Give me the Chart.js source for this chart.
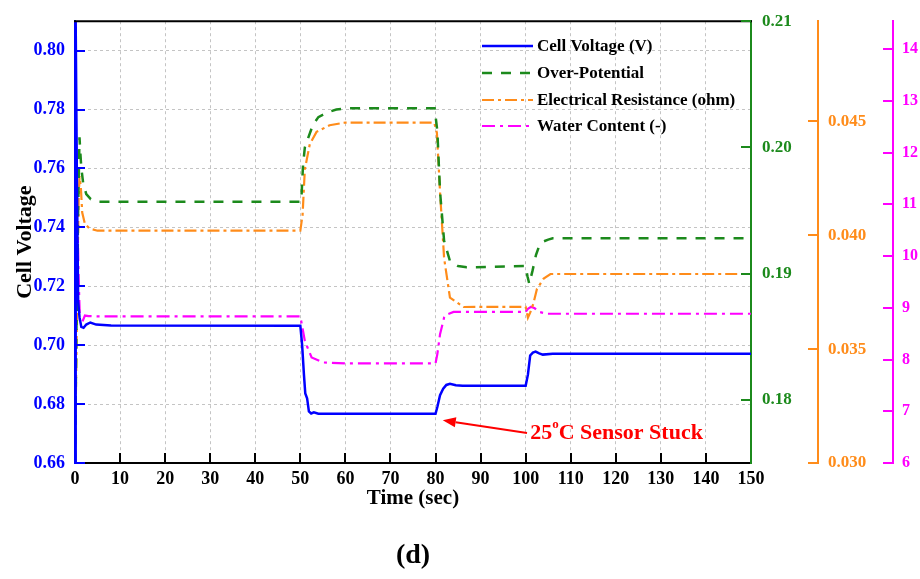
<!DOCTYPE html>
<html>
<head>
<meta charset="utf-8">
<script src="https://cdn.jsdelivr.net/npm/chart.js@4.4.1/dist/chart.umd.min.js"></script>
<style>
  html, body { margin: 0; padding: 0; background: #ffffff; }
  canvas { display: block; }
</style>
</head>
<body>
<canvas id="chart" width="920" height="579"></canvas>
<script>
const SERIF = "'Liberation Serif', 'Times New Roman', serif";

// ---- series: time (sec) and values ----
const voltageTime   = [0, 0.15, 0.4, 0.7, 1.0, 1.4, 1.9, 2.5, 3.4, 4.7, 8, 50, 50.4, 50.8, 51.1, 51.5, 51.9, 52.4, 53, 54, 80, 80.4, 81, 81.7, 82.4, 83.2, 84.5, 86, 100, 100.5, 101, 101.6, 102.2, 103, 103.8, 106, 150];
const voltageValues = [0.66, 0.81, 0.76, 0.715, 0.7095, 0.7062, 0.7059, 0.707, 0.7077, 0.707, 0.7067, 0.7066, 0.700, 0.690, 0.6836, 0.682, 0.6775, 0.6768, 0.6772, 0.6767, 0.6767, 0.679, 0.683, 0.6852, 0.6865, 0.6869, 0.6864, 0.6862, 0.6862, 0.690, 0.6965, 0.6975, 0.6978, 0.6972, 0.6968, 0.6971, 0.6971];

const potentialTime   = [0, 0.3, 0.7, 1.0, 1.2, 1.4, 1.8, 2.5, 3.5, 5, 50.2, 50.6, 51.0, 52.8, 54, 56.2, 58, 60, 79.8, 80.4, 81, 81.9, 83.2, 85, 86.9, 100, 100.4, 100.8, 101.5, 102.3, 103, 103.6, 105, 106, 150];
const potentialValues = [0.175, 0.185, 0.195, 0.2008, 0.1995, 0.1984, 0.1972, 0.1963, 0.1959, 0.1957, 0.1957, 0.1986, 0.2000, 0.2018, 0.2024, 0.2028, 0.2030, 0.2031, 0.2031, 0.2013, 0.1965, 0.1926, 0.1910, 0.1906, 0.1905, 0.1906, 0.1898, 0.1892, 0.1902, 0.1915, 0.1922, 0.1925, 0.1927, 0.1928, 0.1928];

const resistanceTime   = [0, 0.4, 0.8, 1.0, 1.3, 1.6, 2.2, 3.2, 5, 50, 50.5, 51, 52.1, 53.6, 56.5, 60, 79.7, 80.3, 81, 81.9, 83.2, 86.2, 100, 100.5, 101, 101.7, 102.5, 104, 105.5, 150];
const resistanceValues = [0.030, 0.036, 0.0415, 0.0426, 0.0421, 0.0410, 0.0405, 0.0403, 0.0402, 0.0402, 0.0409, 0.0429, 0.0440, 0.04454, 0.04483, 0.04495, 0.04495, 0.0445, 0.0419, 0.0390, 0.03726, 0.03685, 0.03686, 0.03638, 0.0366, 0.03699, 0.03764, 0.0381, 0.0383, 0.0383];

const waterTime   = [0, 0.2, 0.5, 0.8, 1.1, 1.5, 2.2, 3, 5, 50, 50.5, 51, 52.5, 55, 60, 80, 80.4, 81, 81.9, 82.5, 84, 100, 100.5, 101.2, 102, 103, 104.7, 150];
const waterValues = [6, 12.6, 11.0, 9.6, 8.74, 8.70, 8.85, 8.84, 8.835, 8.835, 8.60, 8.36, 8.04, 7.944, 7.925, 7.925, 8.105, 8.49, 8.81, 8.87, 8.92, 8.92, 8.98, 9.02, 8.99, 8.92, 8.885, 8.885];

// ---- axis ticks ----
const timeTicks       = [0, 10, 20, 30, 40, 50, 60, 70, 80, 90, 100, 110, 120, 130, 140, 150];
const voltageTicks    = [0.66, 0.68, 0.70, 0.72, 0.74, 0.76, 0.78, 0.80];
const potentialTicks  = [0.18, 0.19, 0.20, 0.21];
const resistanceTicks = [0.030, 0.035, 0.040, 0.045];
const waterTicks      = [6, 7, 8, 9, 10, 11, 12, 13, 14];

const seriesLabels = ['Cell Voltage (V)', 'Over-Potential', 'Electrical Resistance (ohm)', 'Water Content (-)'];

const BLUE = '#0000ff', GREEN = '#1c8a1c', ORANGE = '#ff8c1a', MAGENTA = '#ff00ff', RED = '#ff0000';

const pts = (ts, vs) => ts.map((t, i) => ({ x: t, y: vs[i] }));

const boldSerif = size => ({ family: SERIF, size, weight: 'bold' });
const setTicks = list => scale => { scale.ticks = list.map(v => ({ value: v })); };

// inward tick marks on every axis plus the top frame line
const frameMarks = {
  id: 'frameMarks',
  afterDatasetsDraw(chart) {
    const { ctx, chartArea: a, scales } = chart;
    ctx.save();
    ctx.lineWidth = 2;
    ctx.setLineDash([]);
    ctx.strokeStyle = '#000';
    ctx.beginPath();
    ctx.moveTo(a.left - 1, a.top);
    ctx.lineTo(a.right + 1, a.top);
    ctx.stroke();

    const vertTicks = (scale, x0, dir, list, color) => {
      ctx.strokeStyle = color;
      ctx.beginPath();
      list.forEach(v => {
        const y = Math.round(scale.getPixelForValue(v));
        ctx.moveTo(x0, y);
        ctx.lineTo(x0 + dir * 10, y);
      });
      ctx.stroke();
    };
    vertTicks(scales.y, scales.y.right, 1, voltageTicks, BLUE);
    vertTicks(scales.y1, scales.y1.left, -1, potentialTicks, GREEN);
    vertTicks(scales.y2, scales.y2.left, -1, resistanceTicks, ORANGE);
    vertTicks(scales.y3, scales.y3.left, -1, waterTicks, MAGENTA);

    ctx.strokeStyle = '#000';
    ctx.beginPath();
    timeTicks.slice(1, -1).forEach(t => {
      const x = Math.round(scales.x.getPixelForValue(t));
      ctx.moveTo(x, a.bottom);
      ctx.lineTo(x, a.bottom - 10);
    });
    ctx.stroke();
    ctx.restore();
  }
};

// legend inside the plot, upper right
const insideLegend = {
  id: 'insideLegend',
  afterDatasetsDraw(chart) {
    const { ctx } = chart;
    ctx.save();
    ctx.font = `bold 17px ${SERIF}`;
    ctx.textBaseline = 'middle';
    ctx.fillStyle = '#000';
    const rows = [46, 73, 100, 126];
    chart.data.datasets.forEach((ds, i) => {
      const y = rows[i];
      ctx.strokeStyle = ds.borderColor;
      ctx.lineWidth = ds.borderWidth;
      ctx.setLineDash(ds.borderDash || []);
      ctx.beginPath();
      ctx.moveTo(482, y);
      ctx.lineTo(533, y);
      ctx.stroke();
      ctx.setLineDash([]);
      ctx.fillText(ds.label, 537, y + 1);
    });
    ctx.restore();
  }
};

// red arrow and note for the stuck sensor, plus the panel tag
const sensorNote = {
  id: 'sensorNote',
  afterDatasetsDraw(chart) {
    const { ctx, scales: { x, y } } = chart;
    const tipX = x.getPixelForValue(81.6), tipY = y.getPixelForValue(0.6745);
    const tailX = x.getPixelForValue(100.3), tailY = y.getPixelForValue(0.6702);
    ctx.save();
    ctx.strokeStyle = RED;
    ctx.fillStyle = RED;
    ctx.lineWidth = 2;
    const ang = Math.atan2(tipY - tailY, tipX - tailX);
    const headLen = 13, headW = 5;
    const bx = tipX - headLen * Math.cos(ang), by = tipY - headLen * Math.sin(ang);
    ctx.beginPath();
    ctx.moveTo(tailX, tailY);
    ctx.lineTo(bx, by);
    ctx.stroke();
    ctx.beginPath();
    ctx.moveTo(tipX, tipY);
    ctx.lineTo(bx + headW * Math.sin(ang), by - headW * Math.cos(ang));
    ctx.lineTo(bx - headW * Math.sin(ang), by + headW * Math.cos(ang));
    ctx.closePath();
    ctx.fill();

    let tx = x.getPixelForValue(101);
    const ty = y.getPixelForValue(0.6702);
    ctx.textBaseline = 'middle';
    ctx.font = `bold 22px ${SERIF}`;
    ctx.fillText('25', tx, ty);
    tx += ctx.measureText('25').width;
    ctx.font = `bold 13px ${SERIF}`;
    ctx.fillText('o', tx, ty - 8);
    tx += ctx.measureText('o').width;
    ctx.font = `bold 22px ${SERIF}`;
    ctx.fillText('C Sensor Stuck', tx, ty);

    ctx.fillStyle = '#000';
    ctx.textAlign = 'center';
    ctx.font = `bold 28px ${SERIF}`;
    ctx.fillText('(d)', x.getPixelForValue(75), 556);
    ctx.restore();
  }
};

new Chart(document.getElementById('chart'), {
  type: 'scatter',
  data: {
    datasets: [
      { label: seriesLabels[0], data: pts(voltageTime, voltageValues), yAxisID: 'y',
        borderColor: BLUE, borderWidth: 2.5, showLine: true, pointRadius: 0, tension: 0, order: 0 },
      { label: seriesLabels[1], data: pts(potentialTime, potentialValues), yAxisID: 'y1',
        borderColor: GREEN, borderWidth: 2.5, borderDash: [10, 9], showLine: true, pointRadius: 0, tension: 0, order: 1 },
      { label: seriesLabels[2], data: pts(resistanceTime, resistanceValues), yAxisID: 'y2',
        borderColor: ORANGE, borderWidth: 2.2, borderDash: [12, 4, 3, 4], showLine: true, pointRadius: 0, tension: 0, order: 2 },
      { label: seriesLabels[3], data: pts(waterTime, waterValues), yAxisID: 'y3',
        borderColor: MAGENTA, borderWidth: 2.2, borderDash: [13, 5, 3, 5], showLine: true, pointRadius: 0, tension: 0, order: 3 }
    ]
  },
  options: {
    responsive: false,
    animation: false,
    devicePixelRatio: 1,
    layout: { padding: { top: 19, left: 0, right: 0, bottom: 0 } },
    plugins: { legend: { display: false }, tooltip: { enabled: false } },
    scales: {
      x: {
        type: 'linear', position: 'bottom', min: 0, max: 150,
        afterBuildTicks: setTicks(timeTicks),
        afterFit: s => { s.height = 116; },
        grid: { color: '#c4c4c4', lineWidth: 1, drawTicks: false },
        border: { display: true, color: '#000', width: 2, dash: [3, 3] },
        ticks: { color: '#000', font: boldSerif(18), padding: 6, maxRotation: 0, autoSkip: false },
        title: { display: true, text: 'Time (sec)', color: '#000',
                 font: boldSerif(21), padding: { top: 0, bottom: 68 } }
      },
      y: {
        type: 'linear', position: 'left', min: 0.66, max: 0.81,
        afterBuildTicks: setTicks(voltageTicks),
        afterFit: s => { s.width = 75; },
        grid: { color: '#c4c4c4', lineWidth: 1, drawTicks: false },
        border: { display: true, color: BLUE, width: 2, dash: [3, 3] },
        ticks: { color: BLUE, font: boldSerif(18), padding: 10, callback: v => v.toFixed(2) },
        title: { display: true, text: 'Cell Voltage', color: '#000',
                 font: boldSerif(22), padding: { top: 12, bottom: 0 } }
      },
      y1: {
        type: 'linear', position: 'right', weight: 0, min: 0.175, max: 0.21,
        afterBuildTicks: setTicks(potentialTicks),
        afterFit: s => { s.width = 67; },
        grid: { display: false, drawTicks: false },
        border: { display: true, color: GREEN, width: 2 },
        ticks: { color: GREEN, font: boldSerif(17), padding: 11, callback: v => v.toFixed(2) }
      },
      y2: {
        type: 'linear', position: 'right', weight: 1, min: 0.030, max: 0.0494,
        afterBuildTicks: setTicks(resistanceTicks),
        afterFit: s => { s.width = 75; },
        grid: { display: false, drawTicks: false },
        border: { display: true, color: ORANGE, width: 2 },
        ticks: { color: ORANGE, font: boldSerif(17), padding: 10, callback: v => v.toFixed(3) }
      },
      y3: {
        type: 'linear', position: 'right', weight: 2, min: 6, max: 14.54,
        afterBuildTicks: setTicks(waterTicks),
        afterFit: s => { s.width = 27; },
        grid: { display: false, drawTicks: false },
        border: { display: true, color: MAGENTA, width: 2 },
        ticks: { color: MAGENTA, font: boldSerif(16), padding: 9, callback: v => String(v) }
      }
    }
  },
  plugins: [frameMarks, insideLegend, sensorNote]
});
</script>
</body>
</html>
